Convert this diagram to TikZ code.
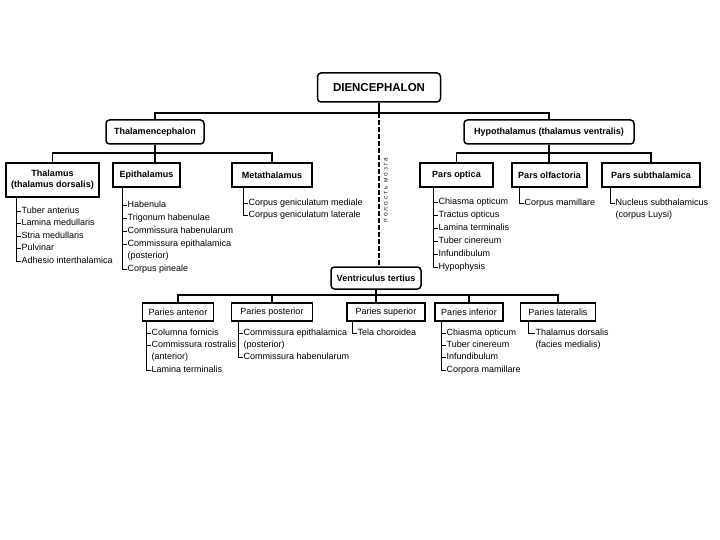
\documentclass[tikz,border=0pt]{standalone}
\usepackage{fontspec}
\setmainfont{Liberation Sans}
\newfontfamily\cyrspaced[LetterSpace=30]{Liberation Sans}
\newcommand\tlist[3]{%
  \foreach \n/\y/\t/\k in {#3} {
    \node[item] (\n) at (#2,\y) {\t};
    \ifnum\k=1 \draw[lst] (#1 |- \n.west) -- (\n.west); \fi
  }}
\begin{document}
\begin{tikzpicture}[x=1pt,y=-1pt,
  every node/.style={font=\fontsize{9}{11}\selectfont},
  box/.style={draw, line width=1.5pt, inner sep=0pt, minimum height=24pt, font=\bfseries\fontsize{9}{11}\selectfont},
  rbox/.style={box, rounded corners=3.5pt},
  pbox/.style={draw, line width=1.4pt, inner sep=0pt, minimum height=18pt},
  item/.style={anchor=west, inner sep=0.5pt, text height=6.5pt, text depth=2pt},
  conn/.style={line width=1.2pt},
  lst/.style={line width=0.9pt},
]
\useasboundingbox[fill=white] (0,0) rectangle (720,540);

% boxes
\node[rbox, minimum width=123pt, minimum height=29pt, font=\bfseries\fontsize{11.5}{13}\selectfont] (dien) at (379,87.5) {DIENCEPHALON};
\node[rbox, minimum width=98pt] (thalen) at (155,132) {Thalamencephalon};
\node[rbox, minimum width=170pt] (hypo) at (549,132) {Hypothalamus (thalamus ventralis)};
\node[box, minimum width=93pt, minimum height=34pt, align=center] (thal) at (52.5,180) {Thalamus\\(thalamus dorsalis)};
\node[box, minimum width=67pt] (epi) at (146.5,175) {Epithalamus};
\node[box, minimum width=80pt] (meta) at (272,175) {Metathalamus};
\node[box, minimum width=73pt] (optica) at (456.5,175) {Pars optica};
\node[box, minimum width=75pt] (olf) at (549.5,175) {Pars olfactoria};
\node[box, minimum width=98pt] (subth) at (651,175) {Pars subthalamica};
\node[rbox, minimum width=90pt, minimum height=22pt] (ventr) at (376,278) {Ventriculus tertius};
\node[pbox, minimum width=71pt] (pant) at (178,312) {Paries anterior};
\node[pbox, minimum width=81pt] (ppost) at (272,312) {Paries posterior};
\node[pbox, minimum width=78pt] (psup) at (386,312) {Paries superior};
\node[pbox, minimum width=68pt] (pinf) at (469,312) {Paries inferior};
\node[pbox, minimum width=75pt] (plat) at (558,312) {Paries lateralis};

\node[rotate=90, font=\cyrspaced\fontsize{6.5}{7}\selectfont, text=black!85] (cav) at (386,190) {полость мозга};

% connectors
\coordinate (bar1) at (0,113);
\coordinate (bar2) at (0,153);
\coordinate (bar3) at (0,295);
\draw[conn] (dien.south) -- (dien.south |- bar1);
\draw[conn] (thalen.north) |- (bar1 -| hypo.north) -- (hypo.north);
\draw[conn, dash pattern=on 5pt off 2pt] (dien.south |- bar1) -- (dien.south |- ventr.north);
\draw[conn] (thalen.south) -- (thalen.south |- epi.north);
\draw[conn] (thal.north) |- (bar2 -| meta.north) -- (meta.north);
\draw[conn] (hypo.south) -- (hypo.south |- olf.north);
\draw[conn] (optica.north) |- (bar2 -| subth.north) -- (subth.north);
\draw[conn] (ventr.south) -- (ventr.south |- psup.north);
\draw[conn] (pant.north) |- (bar3 -| plat.north) -- (plat.north);
\draw[conn] (ppost.north) -- (ppost.north |- bar3);
\draw[conn] (pinf.north) -- (pinf.north |- bar3);

% list spines
\coordinate (sThal) at (16,0);
\coordinate (sEpi) at (122,0);
\coordinate (sMeta) at (243,0);
\coordinate (sOpt) at (433,0);
\coordinate (sOlf) at (519,0);
\coordinate (sSub) at (610,0);
\coordinate (sAnt) at (146,0);
\coordinate (sPost) at (238,0);
\coordinate (sSup) at (352,0);
\coordinate (sInf) at (441,0);
\coordinate (sLat) at (528,0);

\tlist{sThal}{21}{a1/211/Tuber anterius/1, a2/223.5/Lamina medullaris/1, a3/236/Stria medullaris/1, a4/248.5/Pulvinar/1, a5/261/Adhesio interthalamica/1}
\tlist{sEpi}{127}{b1/205/Habenula/1, b2/218/Trigonum habenulae/1, b3/231.5/Commissura habenularum/1, b4/244.5/Commissura epithalamica/1, b5/256.5/(posterior)/0, b6/269/Corpus pineale/1}
\tlist{sMeta}{248}{c1/203/Corpus geniculatum mediale/1, c2/215/Corpus geniculatum laterale/1}
\tlist{sOpt}{438}{d1/202/Chiasma opticum/1, d2/215/Tractus opticus/1, d3/228/Lamina terminalis/1, d4/241/Tuber cinereum/1, d5/254/Infundibulum/1, d6/267/Hypophysis/1}
\tlist{sOlf}{524}{e1/203/Corpus mamillare/1}
\tlist{sSub}{615}{f1/203/Nucleus subthalamicus/1, f2/215/(corpus Luysi)/0}
\tlist{sAnt}{151}{g1/333/Columna fornicis/1, g2/345/Commissura rostralis/1, g3/357/(anterior)/0, g4/370/Lamina terminalis/1}
\tlist{sPost}{243}{h1/333/Commissura epithalamica/1, h2/345/(posterior)/0, h3/357/Commissura habenularum/1}
\tlist{sSup}{357}{i1/333/Tela choroidea/1}
\tlist{sInf}{446}{j1/333/Chiasma opticum/1, j2/345/Tuber cinereum/1, j3/357/Infundibulum/1, j4/370/Corpora mamillare/1}
\tlist{sLat}{535}{k1/333/Thalamus dorsalis/1, k2/345/(facies medialis)/0}

\draw[lst] (sThal |- thal.south) -- (sThal |- a5.west);
\draw[lst] (sEpi |- epi.south) -- (sEpi |- b6.west);
\draw[lst] (sMeta |- meta.south) -- (sMeta |- c2.west);
\draw[lst] (sOpt |- optica.south) -- (sOpt |- d6.west);
\draw[lst] (sOlf |- olf.south) -- (sOlf |- e1.west);
\draw[lst] (sSub |- subth.south) -- (sSub |- f1.west);
\draw[lst] (sAnt |- pant.south) -- (sAnt |- g4.west);
\draw[lst] (sPost |- ppost.south) -- (sPost |- h3.west);
\draw[lst] (sSup |- psup.south) -- (sSup |- i1.west);
\draw[lst] (sInf |- pinf.south) -- (sInf |- j4.west);
\draw[lst] (sLat |- plat.south) -- (sLat |- k1.west);
\end{tikzpicture}
\end{document}
